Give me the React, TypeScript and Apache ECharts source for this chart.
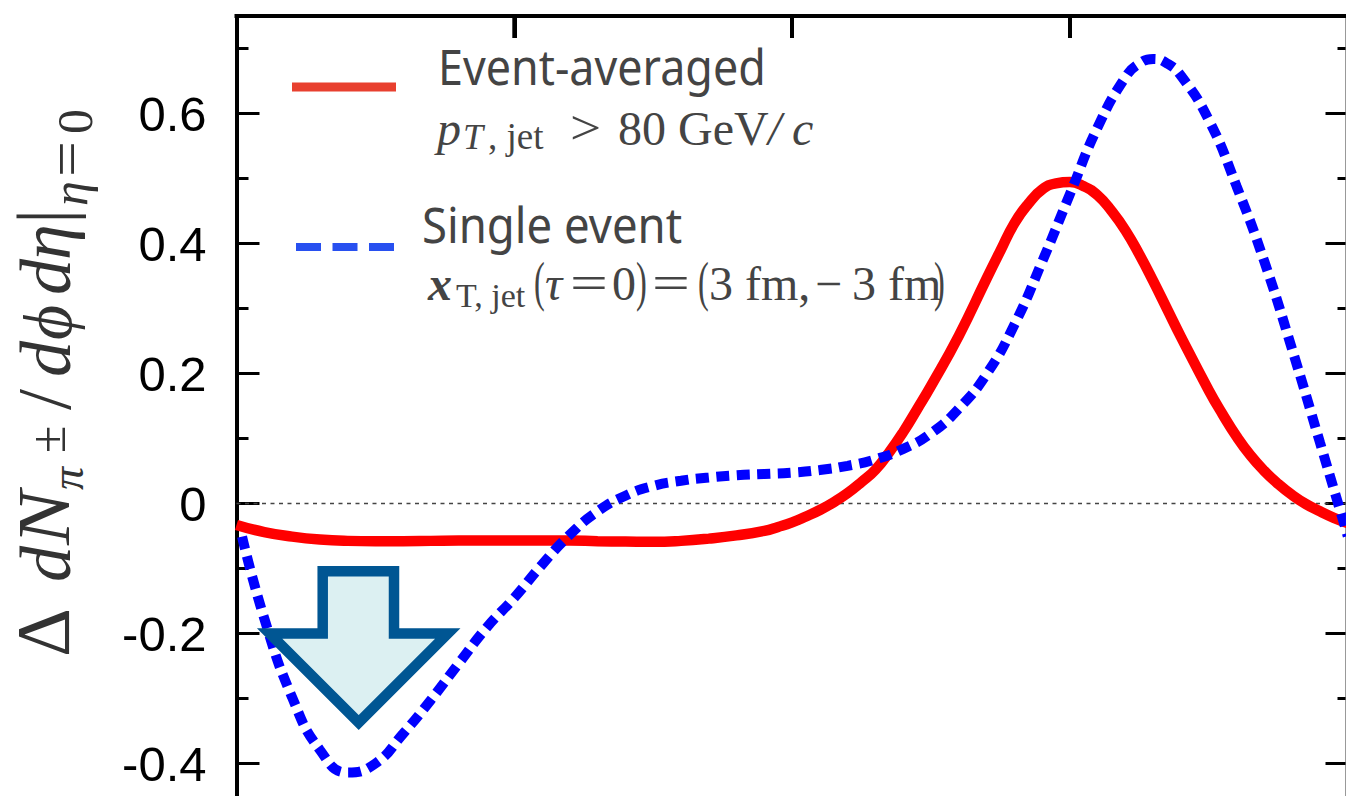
import React, { useEffect, useRef } from "react";
import * as echarts from "echarts";

// x is the azimuth in units of pi, y the yield difference
const redX = [-1,-0.95,-0.9,-0.85,-0.8,-0.75,-0.7,-0.65,-0.6,-0.55,-0.5,-0.45,-0.4,-0.35,-0.3,-0.25,-0.2,-0.15,-0.1,-0.05,-0.025,0,0.025,0.05,0.075,0.1,0.125,0.15,0.175,0.2,0.225,0.25,0.3,0.35,0.375,0.4,0.425,0.45,0.475,0.5,0.525,0.55,0.575,0.6,0.625,0.65,0.675,0.7,0.75,0.775,0.8,0.825,0.85,0.875,0.9,0.925,0.95,0.975,1];
const redY = [-0.033,-0.044,-0.051,-0.0555,-0.0575,-0.058,-0.058,-0.0575,-0.057,-0.057,-0.057,-0.057,-0.057,-0.058,-0.0585,-0.059,-0.0575,-0.054,-0.049,-0.042,-0.036,-0.029,-0.02,-0.01,0.002,0.016,0.033,0.052,0.079,0.11,0.145,0.181,0.258,0.346,0.389,0.431,0.461,0.483,0.4925,0.4945,0.488,0.474,0.45,0.42,0.383,0.342,0.299,0.256,0.174,0.137,0.103,0.074,0.05,0.03,0.013,-0.001,-0.012,-0.022,-0.03];
const blueX = [-0.99,-0.95,-0.9,-0.85,-0.8,-0.75,-0.7,-0.65,-0.6,-0.55,-0.5,-0.45,-0.4,-0.35,-0.3,-0.25,-0.2,-0.15,-0.1,-0.05,0,0.05,0.1,0.15,0.2,0.25,0.3,0.35,0.4,0.45,0.5,0.55,0.6,0.625,0.65,0.675,0.7,0.75,0.8,0.85,0.9,0.95,1];
const blueY = [-0.051,-0.177,-0.298,-0.379,-0.414,-0.4,-0.354,-0.302,-0.246,-0.191,-0.145,-0.094,-0.048,-0.012,0.012,0.027,0.035,0.04,0.0435,0.0455,0.0475,0.0515,0.058,0.068,0.084,0.108,0.146,0.199,0.275,0.372,0.476,0.579,0.656,0.677,0.684,0.677,0.658,0.59,0.488,0.372,0.237,0.094,-0.05];
const zeroX = [-1, 1];
const zeroY = [0, 0];
const majorY = [-0.4, -0.2, 0, 0.2, 0.4, 0.6];
const minorY = [-0.3, -0.1, 0.1, 0.3, 0.5, 0.7];
const topTicks = [-0.5, 0, 0.5];

const zip = (a: number[], b: number[]) => a.map((v, i) => [v, b[i]]);
const SERIF = "'Liberation Serif', serif";
const INK = "#444444";

const t = (text: string, x: number, y: number, size: number, opt: any = {}) => ({
  type: "text", x, y, z: 20, rotation: opt.rot ?? 0, scaleX: opt.sx ?? 1,
  style: {
    text, fill: opt.fill ?? INK, fontFamily: opt.font ?? SERIF, fontSize: size,
    fontStyle: opt.it ? "italic" : "normal", fontWeight: opt.b ? "bold" : "normal",
    align: "left", verticalAlign: "bottom",
  },
});
// rotated glyph of the axis title: y is where the text starts, going upward
const v = (text: string, x: number, y: number, size: number, it = false, sx = 1) =>
  t(text, x, y, size, { rot: Math.PI / 2, it, fill: "#333333", sx });

const labels = [
  t("Event-averaged", 438, 91, 50, { font: "'Noto Sans'", sx: 0.897 }),
  t("p", 437, 152, 48, { it: true }),
  t("T", 463, 155, 36, { it: true }),
  t(", jet", 488, 155, 37),
  t(">", 570, 152, 48, { sx: 1.15 }),
  t("80 GeV", 618, 152, 48),
  t("/", 768, 152, 48, { it: true }),
  t("c", 792, 152, 48, { it: true }),
  t("Single event", 422, 249, 50, { font: "'Noto Sans'", sx: 0.91 }),
  t("x", 428, 307, 48, { it: true, b: true }),
  t("T, jet", 456, 312, 34),
  t("(", 534, 309, 54, { sx: 0.6 }),
  t("\u03c4", 545, 307, 48, { it: true }),
  t("=", 570, 307, 48, { sx: 1.4 }),
  t("0", 612, 307, 48),
  t(")", 636, 309, 54, { sx: 0.6 }),
  t("=", 652, 307, 48, { sx: 1.4 }),
  t("(", 698, 309, 54, { sx: 0.6 }),
  t("3 fm,", 709, 307, 48),
  t("\u2212", 815, 307, 48),
  t("3 fm", 852, 307, 48),
  t(")", 934, 309, 54, { sx: 0.6 }),
  v("\u0394", 81, 657, 76),
  v("d", 82, 582, 72, true),
  v("N", 81, 545, 74, true, 1.1),
  v("\u03c0", 90, 490, 46, true),
  v("\u00b1", 73, 453, 50),
  v("/", 82, 410, 76),
  v("d", 82, 377, 72, true),
  v("\u03d5", 82, 340, 68, true),
  v("d", 82, 295, 72, true),
  v("\u03b7", 82, 260, 72, true),
  v("|", 82, 224, 76),
  v("\u03b7", 95, 206, 50, true),
  v("=", 95, 177, 58, false, 1.1),
  v("0", 100, 134, 50),
];

const GRID_LEFT = 236.5;
const GRID_WIDTH = 1109;
const X_MIN = -1;
const X_MAX = 0.996;
const tickPx = GRID_LEFT + ((topTicks[0] - X_MIN) / (X_MAX - X_MIN)) * GRID_WIDTH;

export default function App() {
  const ref = useRef<HTMLDivElement>(null);
  useEffect(() => {
    const chart = echarts.init(ref.current!, null, { renderer: "svg" });
    const yBase = { type: "value", min: -0.45, max: 0.75, splitLine: { show: false } };
    const tick = (len: number, vals: number[], w = 3) => ({
      show: true, inside: true, length: len, customValues: vals,
      lineStyle: { color: "#000", width: w },
    });
    const black = { show: true, onZero: false, lineStyle: { color: "#000", width: 4, cap: "square" } };
    const hiddenLine = { show: false, onZero: false };
    chart.setOption({
      animation: false,
      backgroundColor: "#fff",
      grid: { left: GRID_LEFT, top: 16, width: GRID_WIDTH, height: 782 },
      xAxis: { type: "value", position: "top", min: X_MIN, max: X_MAX,
          axisLine: black, axisLabel: { show: false }, splitLine: { show: false },
          axisTick: tick(22, topTicks, 4) },
      yAxis: [
        { ...yBase, position: "left", axisLine: black, axisTick: tick(23, majorY),
          axisLabel: { show: true, inside: false, margin: 30, customValues: majorY, color: "#000",
            fontFamily: "'Liberation Sans'", fontSize: 49, formatter: (x: number) => String(x) } },
        { ...yBase, position: "left", axisLine: hiddenLine, axisLabel: { show: false }, axisTick: tick(12, minorY) },
        { ...yBase, position: "right", axisLine: { show: true, onZero: false, lineStyle: { color: "#999", width: 1 } },
          axisLabel: { show: false }, axisTick: tick(20, majorY) },
        { ...yBase, position: "right", axisLine: hiddenLine, axisLabel: { show: false }, axisTick: tick(8, minorY) },
      ],
      series: [
        { name: "Zero", type: "line", data: zip(zeroX, zeroY), showSymbol: false, z: 1,
          lineStyle: { color: "#444", width: 1.5, type: [4, 4.5] } },
        { name: "Event-averaged", type: "line", data: zip(redX, redY), smooth: 0.5, showSymbol: false, z: 3,
          lineStyle: { color: "#ff0000", width: 10.5 } },
        { name: "Single event", type: "line", data: zip(blueX, blueY), smooth: 0.5, showSymbol: false, z: 4,
          lineStyle: { color: "#0000ff", width: 10, type: [13, 7.5] } },
      ],
      graphic: [
        { type: "line", z: 100, shape: { x1: tickPx, y1: 16, x2: tickPx, y2: 38 }, style: { stroke: "#000", lineWidth: 4 } },
        { type: "line", z: 20, shape: { x1: 292, y1: 87, x2: 396, y2: 87 }, style: { stroke: "#e8402f", lineWidth: 9 } },
        { type: "line", z: 20, shape: { x1: 296, y1: 247, x2: 394, y2: 247 }, style: { stroke: "#2850f0", lineWidth: 8, lineDash: [25, 11.5] } },
        { type: "polygon", z: 30,
          shape: { points: [[322.7, 571.3], [394, 571.3], [394, 633.5], [447.8, 633.5], [358.7, 722.5], [269.6, 633.5], [322.7, 633.5]] },
          style: { fill: "#dcf0f2", stroke: "#005693", lineWidth: 10.5, lineJoin: "miter", miterLimit: 10 } },
        ...labels,
      ],
    });
    return () => chart.dispose();
  }, []);
  return <div ref={ref} style={{ position: "absolute", left: 0, top: 0, width: 1346, height: 796, overflow: "hidden" }} />;
}
